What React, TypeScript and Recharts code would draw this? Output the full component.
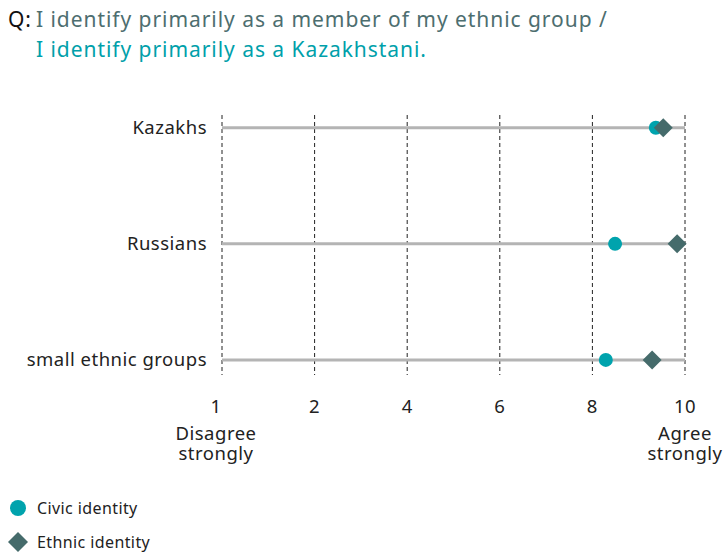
import {
   ComposedChart,
   Scatter,
   XAxis,
   YAxis,
   CartesianGrid,
   ReferenceLine
} from 'recharts'

const categories = ['Kazakhs', 'Russians', 'small ethnic groups']
const civicValues = [9.37, 8.49, 8.29]
const ethnicValues = [9.53, 9.83, 9.29]

const tickValues = [0, 2, 4, 6, 8, 10]
const tickLabels = ['1', '2', '4', '6', '8', '10']
const tickNotes: Record<number, string[]> = {
   0: ['Disagree', 'strongly'],
   10: ['Agree', 'strongly']
}

const colorCivic = '#00A3AD'
const colorEthnic = '#456B6B'
const colorTrack = '#b4b4b4'
const colorText = '#222'
const fontFamily = '"Noto Sans", sans-serif'
const fontSizeAxis = 18.5
const spacingAxis = 0.5

const civicData = categories.map((c, i) => ({ y: i, name: c, value: civicValues[i] }))
const ethnicData = categories.map((c, i) => ({ y: i, name: c, value: ethnicValues[i] }))

const Circle = (props: any) => {
   const { cx, cy } = props
   if (cx == null || cy == null) return null
   return <circle cx={ cx } cy={ cy } r={ 7 } fill={ colorCivic } />
}

const Diamond = (props: any) => {
   const { cx, cy } = props
   if (cx == null || cy == null) return null
   const s = 9.5
   return (
      <polygon
         points={ `${cx},${cy - s} ${cx + s},${cy} ${cx},${cy + s} ${cx - s},${cy}` }
         fill={ colorEthnic }
      />
   )
}

const XTick = (props: any) => {
   const { x, y, payload, index } = props
   const notes = tickNotes[payload.value] || []
   const shift = index === 0 ? -6 : 0
   return (
      <g transform={ `translate(${x + shift},${y})` }>
         <text textAnchor='middle' fill={ colorText } fontSize={ fontSizeAxis } fontFamily={ fontFamily } letterSpacing={ spacingAxis }>
            <tspan x={ 0 } dy={ 36 }>{ tickLabels[tickValues.indexOf(payload.value)] }</tspan>
            { notes.map((n, i) => (
               <tspan key={ i } x={ 0 } dy={ i === 0 ? 27 : 20 }>{ n }</tspan>
            )) }
         </text>
      </g>
   )
}

export default function App() {
   return (
      <div style={{ position: 'absolute', left: 0, top: 0, width: 723, height: 557, background: '#fff', fontFamily }}>
         <svg style={{ position: 'absolute', left: 0, top: 0 }} width={ 723 } height={ 70 }>
            <g fontFamily={ fontFamily } fontSize={ 21 } letterSpacing={ 0.95 }>
               <text x={ 8 } y={ 27 } fill='#111'>Q:</text>
               <text x={ 36 } y={ 27 } fill='#4d6e6f'>I identify primarily as a member of my ethnic group /</text>
               <text x={ 36 } y={ 57 } fill='#00A0AA'>I identify primarily as a Kazakhstani.</text>
            </g>
         </svg>

         <div style={{ position: 'absolute', left: 0, top: 0 }}>
            <ComposedChart
               layout='vertical'
               width={ 723 }
               height={ 480 }
               margin={{ top: 115, right: 38, bottom: 25, left: 0 }}
            >
               <CartesianGrid
                  horizontal={ false }
                  stroke='#222'
                  strokeDasharray='4 3'
               />
               <XAxis
                  type='number'
                  dataKey='value'
                  domain={ [0, 10] }
                  ticks={ tickValues }
                  axisLine={ false }
                  tickLine={ false }
                  tickSize={ 0 }
                  height={ 80 }
                  interval={ 0 }
                  tick={ <XTick /> }
               />
               <YAxis
                  type='number'
                  dataKey='y'
                  domain={ [-0.11, 2.13] }
                  ticks={ [0, 1, 2] }
                  width={ 222 }
                  axisLine={ false }
                  tickLine={ false }
                  tickSize={ 0 }
                  tickMargin={ 15 }
                  tickFormatter={ (v: number) => categories[v] }
                  tick={{ fontSize: fontSizeAxis, fill: colorText, fontFamily, letterSpacing: spacingAxis }}
               />
               { categories.map((c, i) => (
                  <ReferenceLine
                     key={ c }
                     segment={ [{ x: 0, y: i }, { x: 10, y: i }] }
                     stroke={ colorTrack }
                     strokeWidth={ 3 }
                  />
               )) }
               <Scatter
                  name='Civic identity'
                  data={ civicData }
                  dataKey='value'
                  shape={ Circle }
                  isAnimationActive={ false }
               />
               <Scatter
                  name='Ethnic identity'
                  data={ ethnicData }
                  dataKey='value'
                  shape={ Diamond }
                  isAnimationActive={ false }
               />
            </ComposedChart>
         </div>

         <svg style={{ position: 'absolute', left: 0, top: 490 }} width={ 200 } height={ 67 }>
            <g fontFamily={ fontFamily } fontSize={ 16 } letterSpacing={ 0.4 } fill={ colorText }>
               <circle cx={ 18 } cy={ 18 } r={ 8 } fill={ colorCivic } />
               <text x={ 37 } y={ 24 }>Civic identity</text>
               <polygon points='18,42 28,52 18,62 8,52' fill={ colorEthnic } />
               <text x={ 37 } y={ 58 }>Ethnic identity</text>
            </g>
         </svg>
      </div>
   )
}
